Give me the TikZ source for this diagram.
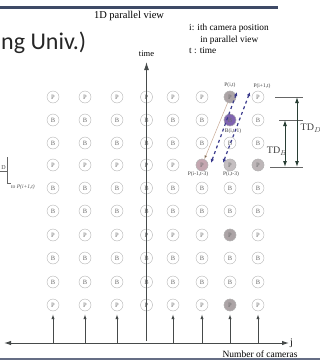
\documentclass[tikz,border=0pt]{standalone}
\usepackage{fontspec}
\setmainfont{Liberation Serif}
\newfontfamily\slidefont{Carlito}
\usetikzlibrary{arrows.meta}
\definecolor{barblue}{RGB}{62,74,102}
\definecolor{ringgray}{RGB}{180,180,180}
\definecolor{lettergray}{RGB}{110,110,110}
\definecolor{axisgray}{RGB}{70,74,74}
\definecolor{tdgreen}{RGB}{40,62,52}
\definecolor{dashblue}{RGB}{58,58,140}
\definecolor{camgray}{RGB}{172,164,166}
\definecolor{campink}{RGB}{196,166,176}
\definecolor{campurple}{RGB}{128,100,176}
\definecolor{thinbrown}{RGB}{200,170,150}

\begin{document}
\begin{tikzpicture}[x=1pt, y=-1pt, up/.style={-{Latex[length=5pt, width=3.4pt]}, draw=axisgray, line width=0.9pt}]
    \tikzset{cam/.style={circle, minimum size=12pt, inner sep=0pt, draw=ringgray, fill=white, text=lettergray, font=\fontsize{6.5}{6.5}\selectfont}};
    \tikzset{tag/.style={inner sep=0pt, text=black!75, font=\fontsize{5.5}{6}\selectfont}};
    \useasboundingbox (0,0) rectangle (320,361);

    % slide frame
    \fill[barblue] (0,6.5) rectangle (278,9.5);
    \draw[barblue!80, line width=1.5pt] (0,359) -- (320,359);
    \node[anchor=west, inner sep=0pt, font=\slidefont\fontsize{24}{24}\selectfont, text=black!85] (univ) at (1,43) {ng Univ.)};

    \node[font=\fontsize{10.5}{11}\selectfont] (title) at (129,16) {1D parallel view};
    \node[anchor=north west, inner sep=0pt, align=left, font=\fontsize{9.3}{11.5}\selectfont] (legend) at (189,24)
        {i: ith camera position\\ \hspace{1.2em}in parallel view\\ t : time};

    % cameras over time
    \foreach \c/\x in {1/53,2/85,3/117,4/146.5,5/173,6/202,7/230,8/258}
        \foreach \r/\y/\f in {1/97/P,2/120/B,3/143/B,4/165/P,5/188/B,6/211/B,7/235/P,8/258/B,9/282/B,10/305/P}
            \node[cam] (\c-\r) at (\x,\y) {\f};

    \node[cam, fill=camgray] (7-1) at (230,97) {P};
    \node[cam, fill=campurple] (7-2) at (230,120) {B};
    \node[cam, fill=campink] (6-4) at (202,165) {P};
    \node[cam, fill=camgray!70] (7-4) at (230,165) {P};
    \node[cam, fill=camgray!80] (8-4) at (258,165) {P};
    \node[cam, fill=camgray] (7-7) at (230,235) {P};
    \node[cam, fill=camgray] (7-10) at (230,305) {P};

    \node[tag] (pit) at (230,85) {P(i,t)};
    \node[tag] (pi1t) at (262,86) {P(i+1,t)};
    \node[tag] (bit) at (233,131) {B(i,t-1)};
    \node[tag] (pi1t3) at (198,174) {P(i-1,t-3)};
    \node[tag] (pit3) at (231,174) {P(i,t-3)};

    % prediction paths
    \draw[thinbrown, line width=0.5pt, -{Latex[length=4pt, width=3pt, fill=tdgreen]}] (7-1) -- (6-4);
    \coordinate (d1a) at (211,163);
    \coordinate (d1b) at (237,92);
    \coordinate (d2a) at (223,163);
    \coordinate (d2b) at (250,92);
    \draw[dashblue, dashed, line width=1.2pt, {Latex[length=4pt, width=3.5pt]}-{Latex[length=4pt, width=3.5pt]}] (d1a) -- (d1b);
    \draw[dashblue, dashed, line width=1.2pt, {Latex[length=4pt, width=3.5pt]}-{Latex[length=4pt, width=3.5pt]}] (d2a) -- (d2b);

    % distances
    \coordinate (tdtop) at (297,97);
    \coordinate (tdmid) at (285,120);
    \coordinate (tdbot) at (297,167);
    \draw[black!60, line width=0.4pt] (275,97) -- (303,97);
    \draw[black!60, line width=0.4pt] (279,120) -- (303,120);
    \draw[black!60, line width=0.4pt] (270,167.5) -- (303,167.5);
    \draw[tdgreen, line width=1pt, {Latex[length=6pt, width=4pt]}-{Latex[length=6pt, width=4pt]}] (tdtop) -- (tdbot);
    \draw[tdgreen, line width=1pt, {Latex[length=6pt, width=4pt]}-{Latex[length=6pt, width=4pt]}] (tdmid) -- (tdmid |- tdbot);
    \node[font=\fontsize{10}{10}\selectfont, text=black!75] (tdd) at (311,128) {TD$_D$};
    \node[font=\fontsize{10}{10}\selectfont, text=black!75] (tdb) at (277,151) {TD$_B$};

    % left bracket
    \node[inner sep=0pt, font=\fontsize{6}{6}\selectfont, text=black!70] (dcut) at (3.5,168) {D};
    \draw[black!60, line width=0.4pt] (0,171.5) -- (7,171.5);
    \draw[black!60, line width=0.4pt] (7,157) |- (11,183);
    \node[anchor=west, inner sep=0pt, font=\itshape\fontsize{5.5}{6}\selectfont, text=black!70] (tonext) at (11,187) {to P(i+1,t)};

    % axes
    \coordinate (left) at (4,343);
    \coordinate (right) at (289,343);
    \coordinate (torig) at (146.5,341);
    \coordinate (ttop) at (146.5,62);
    \draw[axisgray, line width=1pt, {Latex[length=7pt, width=4.5pt]}-{Latex[length=7pt, width=4.5pt]}] (left) -- (right);
    \node[anchor=west, inner sep=1pt, font=\fontsize{10}{10}\selectfont] (jlab) at (right) {j};
    \draw[up, line width=1pt, -{Latex[length=8pt, width=5pt]}] (torig) -- (ttop);
    \node[font=\fontsize{8.5}{9}\selectfont] (tlab) at (146.5,54) {time};
    \foreach \c/\x in {1/53,2/85,3/117,5/173,6/202,7/230,8/258}
    {
        \coordinate (b\c) at (\x,343);
        \draw[up, shorten >=3pt] (b\c) -- (\c-10);
    }
    \node[font=\fontsize{9.5}{10}\selectfont] (ncam) at (260,354) {Number of cameras};
\end{tikzpicture}
\end{document}
